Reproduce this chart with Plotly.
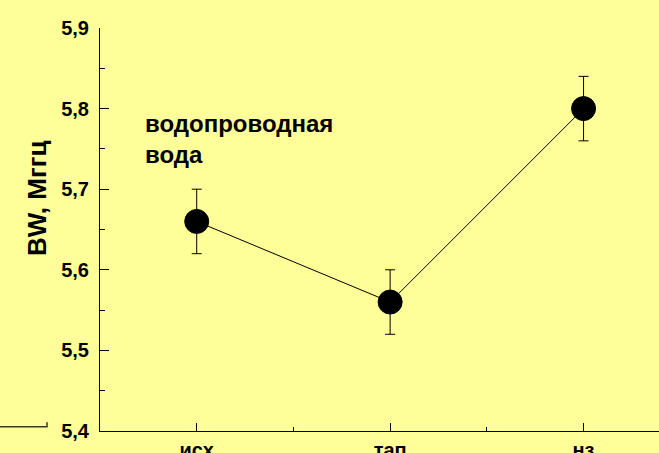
import plotly.graph_objects as go

categories = ["исх", "тап", "нз"]
bw_values = [5.66, 5.56, 5.80]
bw_errors = [0.04, 0.04, 0.04]
y_ticks = [5.4, 5.5, 5.6, 5.7, 5.8, 5.9]

FONT = "Arial, Liberation Sans, sans-serif"
BG = "#FFFF99"

x_pos = list(range(len(categories)))

fig = go.Figure()
fig.add_trace(go.Scatter(
    x=x_pos, y=bw_values,
    mode="lines+markers",
    line=dict(color="black", width=1),
    marker=dict(size=24, color="black", line=dict(color="black", width=1)),
    error_y=dict(type="data", array=bw_errors, visible=True,
                 color="black", thickness=1, width=5),
    cliponaxis=False,
    showlegend=False,
))

fig.add_annotation(
    x=-0.28, y=5.762, xref="x", yref="y",
    text="водопроводная<br>вода", showarrow=False,
    xanchor="left", yanchor="middle", align="left",
    font=dict(family=FONT, size=24, color="black", weight="bold"),
)

fig.add_annotation(
    x=-0.1127, y=0.578, xref="paper", yref="paper",
    text="BW, Мггц", showarrow=False, textangle=-90,
    xanchor="center", yanchor="middle",
    font=dict(family=FONT, size=26, color="black", weight="bold"),
)

# small stray line at bottom left
fig.add_shape(type="path", xref="paper", yref="paper",
              path="M -0.18 0.0107 L -0.0948 0.0107 L -0.0948 0.022",
              line=dict(color="#3a3a2a", width=1.5))

fig.update_layout(
    width=659, height=453, autosize=False,
    margin=dict(l=100, r=0, t=28, b=22),
    paper_bgcolor=BG, plot_bgcolor=BG,
    separators=", ",
    font=dict(family=FONT, color="black"),
)

fig.update_xaxes(
    range=[-0.5, 2.39], automargin=False,
    tickvals=x_pos, ticktext=categories,
    showline=True, linecolor="black", linewidth=1,
    ticks="inside", ticklen=8, tickwidth=1, tickcolor="black",
    minor=dict(tickvals=[0.5, 1.5], ticks="inside", ticklen=4,
               tickwidth=1, tickcolor="black", showgrid=False),
    showgrid=False, zeroline=False,
    tickfont=dict(family=FONT, size=20, color="black", weight="bold"),
    ticklabelstandoff=1,
)

fig.update_yaxes(
    range=[5.4, 5.9], automargin=False,
    tickvals=y_ticks, tickformat=".1f",
    showline=True, linecolor="black", linewidth=1,
    ticks="inside", ticklen=9, tickwidth=1, tickcolor="black",
    minor=dict(dtick=0.05, tick0=5.4, ticks="inside", ticklen=5,
               tickwidth=1, tickcolor="black", showgrid=False),
    showgrid=False, zeroline=False,
    tickfont=dict(family=FONT, size=20, color="black", weight="bold"),
    ticklabelstandoff=6,
)

fig.write_html(
    "out.html",
    config={"displayModeBar": False},
    post_script="document.body.style.margin='0';"
                "document.body.style.background='" + BG + "';",
)
